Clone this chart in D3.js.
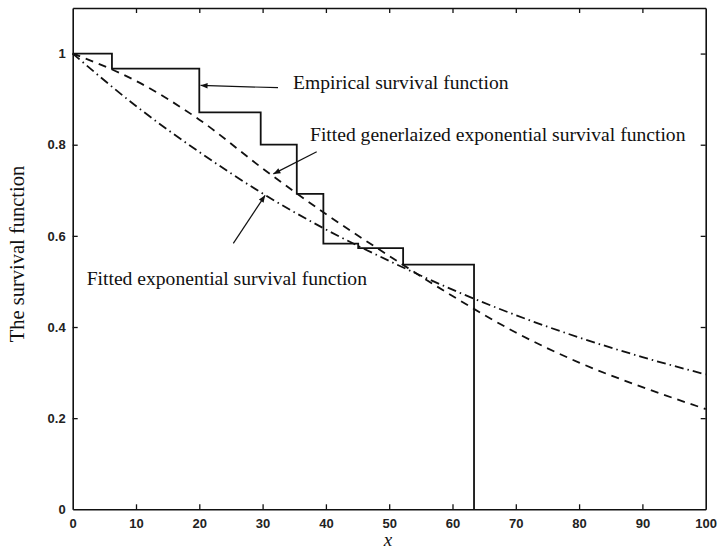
<!DOCTYPE html>
<html><head><meta charset="utf-8">
<script src="https://cdn.jsdelivr.net/npm/d3@7"></script>
<style>
html,body{margin:0;padding:0;background:#fff;}
svg{display:block;}
</style></head>
<body>
<svg id="chart" width="718" height="549"></svg>
<script>
// Empirical (Kaplan-Meier style) step function: change points and levels
const stepX = [0, 6.2, 20.0, 29.7, 35.4, 39.6, 45.1, 52.2, 63.4];
const stepY = [1.0, 0.967, 0.871, 0.800, 0.692, 0.583, 0.573, 0.537, 0.0];
// Fitted curves
const curveX = [0, 10, 20, 30, 40, 50, 60, 70, 80, 90, 100];
const genExpY = [1.0, 0.940, 0.855, 0.748, 0.648, 0.556, 0.468, 0.388, 0.322, 0.268, 0.220];
const expY = [1.0, 0.885, 0.784, 0.693, 0.614, 0.545, 0.482, 0.426, 0.377, 0.334, 0.296];
const xTicks = [0, 10, 20, 30, 40, 50, 60, 70, 80, 90, 100];
const yTicks = [0, 0.2, 0.4, 0.6, 0.8, 1];
const yTickLabels = ["0", "0.2", "0.4", "0.6", "0.8", "1"];
const annotations = [
  {text: "Empirical survival function", tx: 293, ty: 89, from: [278, 87.7], to: [20.2, 0.93]},
  {text: "Fitted generlaized exponential survival function", tx: 310, ty: 141, from: [316.7, 151.7], to: [31.7, 0.736]},
  {text: "Fitted exponential survival function", tx: 86.7, ty: 285, from: [233.3, 243.3], to: [30.4, 0.689]}
];

const svg = d3.select("#chart");
const L = 72.7, R = 705.7, T = 8, B = 509.3;
const x = d3.scaleLinear().domain([0, 100]).range([L, R]);
const y = d3.scaleLinear().domain([0, 1.1]).range([B, T]);

const defs = svg.append("defs");
defs.append("marker").attr("id", "arr").attr("viewBox", "0 0 10 10")
  .attr("refX", 10).attr("refY", 5).attr("markerWidth", 11).attr("markerHeight", 7)
  .attr("markerUnits", "userSpaceOnUse").attr("orient", "auto")
  .append("path").attr("d", "M0,1 L10,5 L0,9 Z").attr("fill", "#111");

// axes (all four sides, inward ticks)
const tickFont = "'Liberation Sans', Arial, sans-serif";
const gB = svg.append("g").attr("transform", `translate(0,${B})`)
  .call(d3.axisBottom(x).tickValues(xTicks).tickSizeInner(-5).tickSizeOuter(0).tickPadding(9));
const gT = svg.append("g").attr("transform", `translate(0,${T})`)
  .call(d3.axisTop(x).tickValues(xTicks).tickSizeInner(-5).tickSizeOuter(0).tickFormat(""));
const gL = svg.append("g").attr("transform", `translate(${L},0)`)
  .call(d3.axisLeft(y).tickValues(yTicks).tickSizeInner(-5).tickSizeOuter(0).tickPadding(7)
    .tickFormat((d, i) => yTickLabels[i]));
const gR = svg.append("g").attr("transform", `translate(${R},0)`)
  .call(d3.axisRight(y).tickValues(yTicks).tickSizeInner(-5).tickSizeOuter(0).tickFormat(""));
[gB, gT, gL, gR].forEach(g => {
  g.select(".domain").attr("stroke", "#111").attr("stroke-width", 1.6);
  g.selectAll(".tick line").attr("stroke", "#111").attr("stroke-width", 1.3);
  g.selectAll("text").attr("font-family", tickFont).attr("font-size", 13)
    .attr("font-weight", "bold").attr("fill", "#222");
});
gB.selectAll(".tick").filter(d => d === 0 || d === 100).select("line").remove();
gT.selectAll(".tick").filter(d => d === 0 || d === 100).select("line").remove();
gL.selectAll(".tick").filter(d => d === 0).select("line").remove();
gR.selectAll(".tick").filter(d => d === 0).select("line").remove();

// step function
const stepData = stepX.map((v, i) => [v, stepY[i]]);
const stepLine = d3.line().x(d => x(d[0])).y(d => y(d[1])).curve(d3.curveStepAfter);
svg.append("path").datum(stepData).attr("d", stepLine)
  .attr("fill", "none").attr("stroke", "#111").attr("stroke-width", 1.8);

const cLine = d3.line().x(d => x(d[0])).y(d => y(d[1])).curve(d3.curveMonotoneX);
svg.append("path").datum(curveX.map((v, i) => [v, genExpY[i]])).attr("d", cLine)
  .attr("fill", "none").attr("stroke", "#111").attr("stroke-width", 1.8)
  .attr("stroke-dasharray", "8,6");
svg.append("path").datum(curveX.map((v, i) => [v, expY[i]])).attr("d", cLine)
  .attr("fill", "none").attr("stroke", "#111").attr("stroke-width", 1.8)
  .attr("stroke-dasharray", "9,4,1.5,4");

// annotations
const serif = "'Liberation Serif', 'Times New Roman', serif";
annotations.forEach(a => {
  svg.append("line").attr("x1", a.from[0]).attr("y1", a.from[1])
    .attr("x2", x(a.to[0])).attr("y2", y(a.to[1]))
    .attr("stroke", "#111").attr("stroke-width", 1.2).attr("marker-end", "url(#arr)");
  svg.append("text").attr("x", a.tx).attr("y", a.ty).text(a.text)
    .attr("font-family", serif).attr("font-size", 19.6).attr("fill", "#111");
});

// axis labels
svg.append("text").attr("transform", "translate(24,254) rotate(-90)")
  .attr("text-anchor", "middle").attr("font-family", serif).attr("font-size", 20.5)
  .attr("fill", "#111").text("The survival function");
svg.append("text").attr("x", 388).attr("y", 546).attr("text-anchor", "middle")
  .attr("font-family", serif).attr("font-style", "italic").attr("font-size", 19)
  .attr("fill", "#111").text("x");
</script>
</body></html>
